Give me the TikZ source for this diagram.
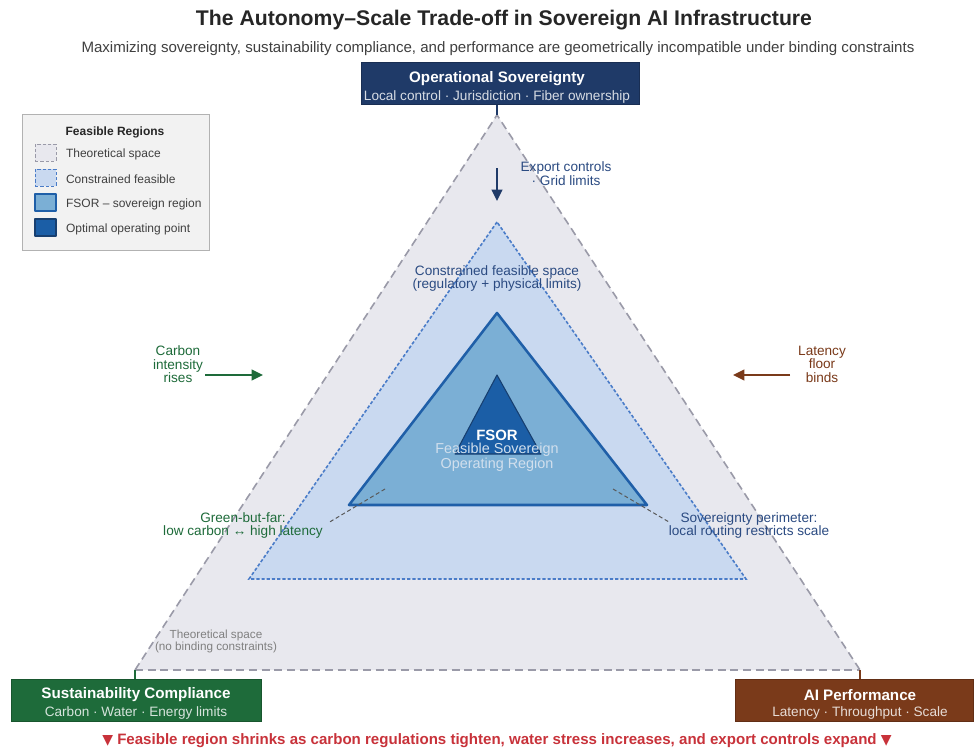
\documentclass[tikz,border=0pt]{standalone}
\usepackage{fontspec}
\setmainfont{Liberation Sans}
\newfontfamily\symfont{DejaVu Sans}
\usetikzlibrary{arrows.meta, positioning}
\definecolor{sovnavy}{HTML}{1F3A68}
\definecolor{susgreen}{HTML}{1E6B3A}
\definecolor{perfbrown}{HTML}{7A3A1A}
\definecolor{alertred}{HTML}{C8323A}
\definecolor{thfill}{HTML}{E8E8EE}
\definecolor{thdraw}{HTML}{9A9AA8}
\definecolor{csfill}{HTML}{C9D9F0}
\definecolor{csdraw}{HTML}{4A7CC8}
\definecolor{fsfill}{HTML}{7BAFD5}
\definecolor{fsdraw}{HTML}{1F5FA8}
\definecolor{opfill}{HTML}{1B5EA6}
\definecolor{opdraw}{HTML}{173F70}
\definecolor{labnavy}{HTML}{2B4B82}
\tikzset{
  fnt/.style={font=\fontsize{#1}{\fpeval{#1*1.0}}\selectfont, yshift=-1.4pt},
  bfnt/.style={font=\fontsize{#1}{\fpeval{#1*1.0}}\selectfont\bfseries, yshift=-1.4pt},
  pole/.style={fill=#1, draw=#1!80!black, text=white, align=center, inner sep=0pt, line width=0.6pt},
  polesub/.style={text=white!82!#1},
  thspace/.style={fill=thfill, draw=thdraw, line width=1.2pt, dash pattern=on 6pt off 3.5pt},
  csspace/.style={fill=csfill, draw=csdraw, line width=1.2pt, dash pattern=on 2.4pt off 1.5pt},
  fsspace/.style={fill=fsfill, draw=fsdraw, line width=1.9pt, line join=round},
  opspace/.style={fill=opfill, draw=opdraw, line width=0.8pt, line join=round},
  push/.style={-{Triangle[length=8.5pt, width=8pt]}, line width=1.6pt, draw=#1},
  pointer/.style={draw=black!65, line width=0.75pt, dash pattern=on 3pt off 2pt},
  swatch/.style={minimum width=15.75pt, minimum height=12.75pt, inner sep=0pt, line width=0.8pt},
  leglabel/.style={fnt=9, text=black!75, inner sep=0pt, anchor=west},
}
\begin{document}
\begin{tikzpicture}[x=0.75pt, y=-0.75pt]
  \useasboundingbox[fill=white] (0,0) rectangle (974,749);
  % title and subtitle
  \node[bfnt=15.9, text=black!85] (title) at (504,18) {The Autonomy–Scale Trade-off in Sovereign AI Infrastructure};
  \node[fnt=11.3, text=black!75] (subtitle) at (498,47) {Maximizing sovereignty, sustainability compliance, and performance are geometrically incompatible under binding constraints};

  % corners of the nested regions
  \coordinate (oA) at (497,115); \coordinate (oL) at (135,670); \coordinate (oR) at (860,670);
  \coordinate (cA) at (497,222); \coordinate (cL) at (249,579); \coordinate (cR) at (746,579);
  \coordinate (fA) at (497,313); \coordinate (fL) at (349,505); \coordinate (fR) at (647,505);
  \coordinate (pA) at (497,375); \coordinate (pL) at (455,454); \coordinate (pR) at (541,454);

  \fill[thfill] (oA) -- (oL) -- (oR) -- cycle;
  \draw[thspace, fill=none] (oL) -- (oA) -- (oR);
  \draw[thspace, fill=none] (oL) -- (oR);
  \draw[csspace] (cA) -- (cL) -- (cR) -- cycle;
  \draw[fsspace] (fA) -- (fL) -- (fR) -- cycle;
  \draw[opspace] (pA) -- (pL) -- (pR) -- cycle;

  % poles of the trade-off
  \node[pole=sovnavy, minimum width=209pt, minimum height=31pt] (sov) at (500.5,83.5) {};
  \node[bfnt=11.4, text=white] (sovt) at (497,77) {Operational Sovereignty};
  \node[fnt=10.2, polesub=sovnavy] (sovs) at (497,95) {Local control · Jurisdiction · Fiber ownership};
  \node[pole=susgreen, minimum width=187.5pt, minimum height=32pt] (sus) at (136,700.5) {};
  \node[bfnt=11.4, text=white] (sust) at (136,693) {Sustainability Compliance};
  \node[fnt=10.2, polesub=susgreen] (suss) at (136,711) {Carbon · Water · Energy limits};
  \node[pole=perfbrown, minimum width=178pt, minimum height=32pt] (perf) at (854.5,700.5) {};
  \node[bfnt=11.4, text=white] (perft) at (860,693) {AI Performance};
  \node[fnt=10.2, polesub=perfbrown] (perfs) at (860,711) {Latency · Throughput · Scale};
  \draw[sovnavy, line width=1pt] (sov.south -| oA) -- (oA);
  \draw[susgreen, line width=1pt] (sus.north -| oL) -- (oL);
  \draw[perfbrown, line width=1pt] (perf.north -| oR) -- (oR);

  % pressures on the feasible space
  \node[fnt=10.2, text=labnavy, align=center] (export) at (566,171.5) {Export controls\\· Grid limits};
  \coordinate (exS) at (497,168); \coordinate (exE) at (497,201);
  \draw[push=sovnavy] (exS) -- (exE);
  \node[fnt=10.2, text=susgreen, align=center] (carbon) at (178,362.5) {Carbon\\intensity\\rises};
  \coordinate (caS) at (205,375); \coordinate (caE) at (263,375);
  \draw[push=susgreen] (caS) -- (caE);
  \node[fnt=10.2, text=perfbrown, align=center] (latency) at (822,362.5) {Latency\\floor\\binds};
  \coordinate (laS) at (790,375); \coordinate (laE) at (733,375);
  \draw[push=perfbrown] (laS) -- (laE);

  % region labels
  \node[fnt=10.2, text=labnavy, align=center] (cslab) at (497,276.5) {Constrained feasible space\\(regulatory + physical limits)};
  \node[bfnt=11.2, text=white] (fsor) at (497,433) {FSOR};
  \node[fnt=10.8, text=white!80!opfill, align=center] (fsorlong) at (497,455.5) {Feasible Sovereign\\Operating Region};
  \node[fnt=8.8, text=black!50, align=center] (thlab) at (216,639.5) {Theoretical space\\(no binding constraints)};

  % corner call-outs
  \coordinate (gbTip) at (385,489); \coordinate (spTip) at (613,489);
  \node[fnt=10.2, text=susgreen, align=center] (greenfar) at (243,523.5) {Green-but-far:\\low carbon ↔ high latency};
  \node[fnt=10.2, text=labnavy, align=center] (perim) at (749,523.5) {Sovereignty perimeter:\\local routing restricts scale};
  \coordinate (gbEnd) at (328,523); \coordinate (spEnd) at (669,522);
  \draw[pointer] (gbTip) -- (gbEnd);
  \draw[pointer] (spTip) -- (spEnd);

  % legend
  \draw[fill=black!5, draw=black!30, line width=0.6pt] (22,114) rectangle (209,250);
  \node[bfnt=9, text=black!85] (legt) at (115,131) {Feasible Regions};
  \node[swatch, thspace, line width=0.7pt, dash pattern=on 2.5pt off 1.5pt] (sw1) at (45.5,152.5) {};
  \node[swatch, csspace, line width=0.7pt, dash pattern=on 2.5pt off 1.5pt] (sw2) at (45.5,177.5) {};
  \node[swatch, fsspace, line width=0.8pt] (sw3) at (45.5,202.5) {};
  \node[swatch, opspace] (sw4) at (45.5,227.5) {};
  \node[leglabel, right=7pt of sw1] (lg1) {Theoretical space};
  \node[leglabel, right=7pt of sw2] (lg2) {Constrained feasible};
  \node[leglabel, right=7pt of sw3] (lg3) {FSOR – sovereign region};
  \node[leglabel, right=7pt of sw4] (lg4) {Optimal operating point};

  % bottom note
  \node[bfnt=11.3, text=alertred] (note) at (497,739) {{\symfont\fontsize{10.5}{10.5}\selectfont ▼}\ Feasible region shrinks as carbon regulations tighten, water stress increases, and export controls expand\ {\symfont\fontsize{10.5}{10.5}\selectfont ▼}};
\end{tikzpicture}
\end{document}
